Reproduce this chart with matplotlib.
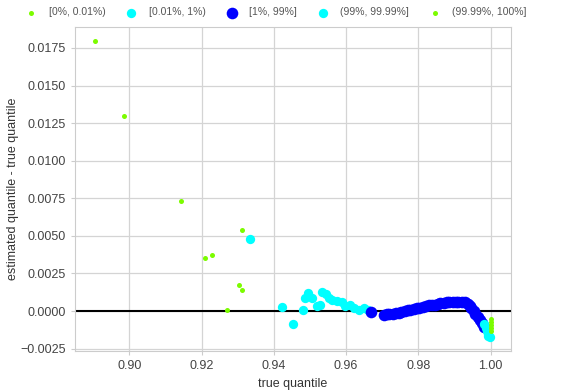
import matplotlib
matplotlib.use("Agg")
import matplotlib.pyplot as plt

plt.rcParams['font.family'] = ['Liberation Sans', 'DejaVu Sans']

# quantile error by tail bucket: x = true quantile, y = estimated - true
low_extreme_x = [0.8906, 0.8986, 0.9144, 0.9208, 0.9230, 0.9312, 0.9303, 0.9312, 0.9271]
low_extreme_y = [0.01795, 0.01298, 0.0073, 0.0035, 0.00373, 0.00537, 0.00173, 0.0014, 0.0001]

low_tail_x = [0.9334, 0.9423, 0.9453, 0.9480, 0.9485, 0.9495, 0.9506, 0.9520, 0.9527,
              0.9534, 0.9543, 0.9552, 0.9561, 0.9575, 0.9589, 0.9598, 0.9612, 0.9621,
              0.9635, 0.9649, 0.9660]
low_tail_y = [0.0048, 0.00027, -0.00089, 0.00004, 0.00084, 0.0012, 0.00084, 0.00033, 0.0004,
              0.00129, 0.00113, 0.00084, 0.00073, 0.00069, 0.00062, 0.00033, 0.0004, 0.00018,
              0.0001, 0.00018, 0.0001]

body_x = [0.9668, 0.9706, 0.9712, 0.9720, 0.9729, 0.9737, 0.9745, 0.9753, 0.9762, 0.9770,
          0.9778, 0.9787, 0.9795, 0.9803, 0.9812, 0.9820, 0.9828, 0.9837, 0.9845, 0.9853,
          0.9861, 0.9870, 0.9878, 0.9886, 0.9895, 0.9903, 0.9911, 0.9920, 0.9928, 0.9936,
          0.9942, 0.9947, 0.9953, 0.9958, 0.9964, 0.9970, 0.9975, 0.9981]
body_y = [-0.00005, -0.00027, -0.00023, -0.00020, -0.00017, -0.00013, -0.00010, -0.00007,
          0.0, 0.00007, 0.00010, 0.00013, 0.00020, 0.00023, 0.00027, 0.00033, 0.00037,
          0.00040, 0.00043, 0.00047, 0.00050, 0.00053, 0.00057, 0.00060, 0.00060, 0.00062,
          0.00062, 0.00060, 0.00057, 0.00047, 0.00033, 0.00020, 0.0, -0.00020, -0.00040,
          -0.00060, -0.00080, -0.00106]

high_tail_x = [0.9983, 0.9986, 0.9989, 0.9992, 0.9994, 0.9997]
high_tail_y = [-0.00087, -0.00113, -0.00133, -0.00153, -0.00166, -0.00173]

high_extreme_x = [1.0, 1.0, 1.0, 1.0, 1.0]
high_extreme_y = [-0.00053, -0.00073, -0.00093, -0.00113, -0.00133]

labels = ['[0%, 0.01%)', '[0.01%, 1%)', '[1%, 99%]', '(99%, 99.99%]', '(99.99%, 100%]']

fig = plt.figure(figsize=(5.61, 3.90), dpi=100)
ax = fig.add_axes([0.134, 0.10, 0.776, 0.831])
ax.set_axisbelow(True)

ax.grid(True, color='#d4d4d4', linewidth=0.9)
ax.axhline(0, color='black', linewidth=1.5, zorder=1)

ax.scatter(low_extreme_x, low_extreme_y, s=13, color='#7cfc00', label=labels[0], zorder=2, linewidths=0)
ax.scatter(low_tail_x, low_tail_y, s=45, color='#00ffff', label=labels[1], zorder=3, linewidths=0)
ax.scatter(body_x, body_y, s=70, color='#0000ff', label=labels[2], zorder=4, linewidths=0)
ax.scatter(high_tail_x, high_tail_y, s=45, color='#00ffff', label=labels[3], zorder=5, linewidths=0)
ax.scatter(high_extreme_x, high_extreme_y, s=13, color='#7cfc00', label=labels[4], zorder=6, linewidths=0)

ax.set_xlim(0.885, 1.0055)
ax.set_ylim(-0.00266, 0.0189)
ax.set_xticks([0.90, 0.92, 0.94, 0.96, 0.98, 1.00])
ax.set_yticks([-0.0025, 0.0, 0.0025, 0.005, 0.0075, 0.01, 0.0125, 0.015, 0.0175])
ax.xaxis.set_major_formatter(matplotlib.ticker.FormatStrFormatter('%.2f'))
ax.yaxis.set_major_formatter(matplotlib.ticker.FuncFormatter(lambda v, p: f'{v:.4f}'.replace('-', '\u2212')))

for sp in ax.spines.values():
    sp.set_color('#cccccc')
ax.tick_params(colors='#cccccc', labelcolor='#444444', labelsize=9, length=3)

ax.set_xlabel('true quantile', fontsize=9, color='#333333', labelpad=4)
ax.set_ylabel('estimated quantile - true quantile', fontsize=9, color='#333333', labelpad=1)

fig.legend(loc='upper center', bbox_to_anchor=(0.488, 1.005), ncol=5, frameon=False,
           fontsize=7.5, labelcolor='#555555', handletextpad=0.65, columnspacing=1.5)

fig.savefig('out.png', dpi=100)
